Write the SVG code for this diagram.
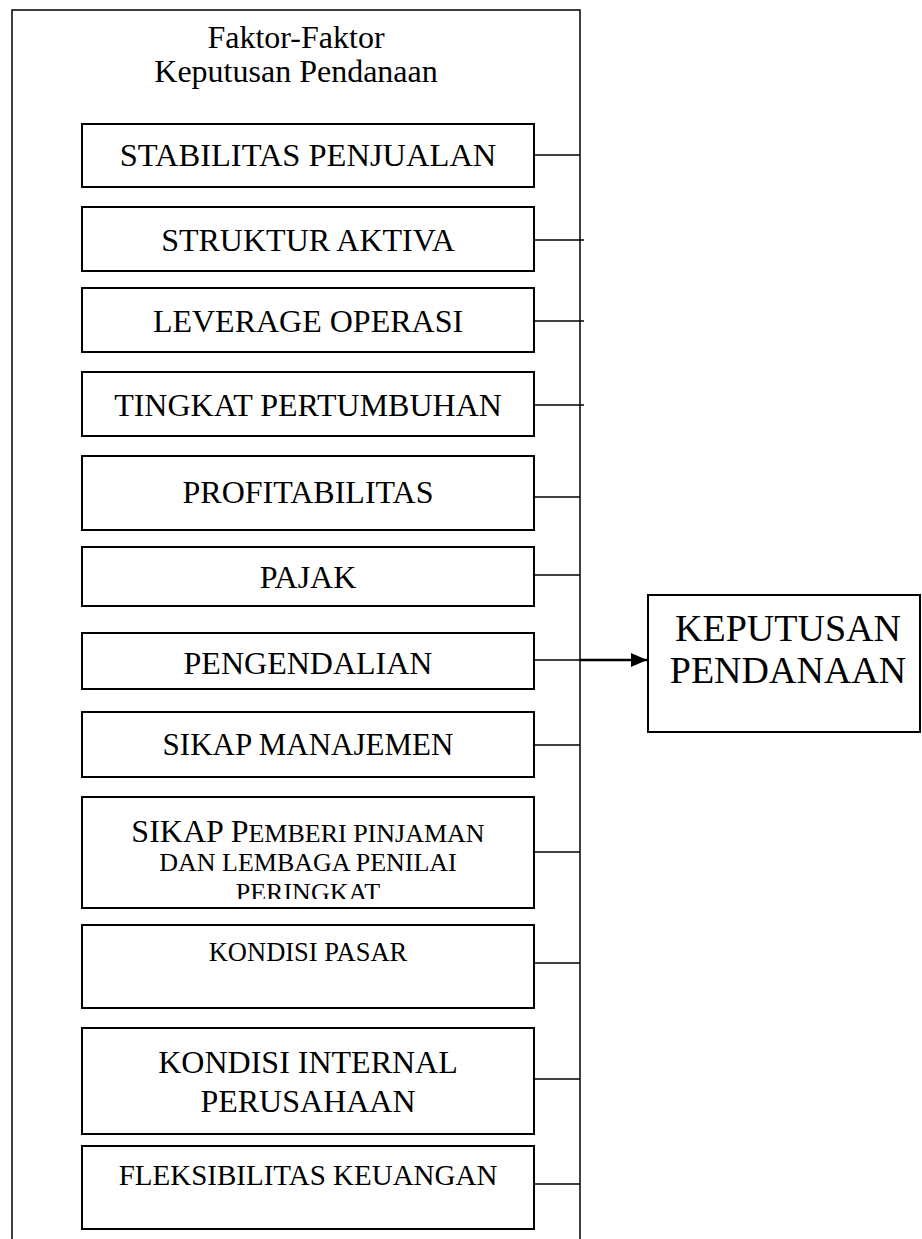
<svg xmlns="http://www.w3.org/2000/svg" width="922" height="1239" viewBox="0 0 922 1239">
<style>
  .box { fill: #ffffff; stroke: #000; stroke-width: 2; }
  .outer { fill: none; stroke: #000; stroke-width: 1.5; }
  .lbl { font-family: "Liberation Serif", "Times New Roman", serif; font-size: 32px; fill: #000; text-anchor: middle; }
  .sc { font-size: 26px; }
  .conn line { stroke: #000; stroke-width: 1.5; }
</style>
<defs>
  <marker id="arrow" markerWidth="16" markerHeight="14" refX="16" refY="7" orient="auto" markerUnits="userSpaceOnUse" viewBox="0 0 16 14">
    <path d="M0,0 L16,7 L0,14 Z" fill="#000"/>
  </marker>
  <clipPath id="clipSP"><rect x="82" y="797" width="452" height="102"/></clipPath>
</defs>
<rect fill="#ffffff" x="0" y="0" width="922" height="1239"/>

<g id="frame">
  <rect class="outer" x="12" y="10" width="568" height="1245"/>
  <text class="lbl" x="296" y="48">Faktor-Faktor</text>
  <text class="lbl" x="296" y="82">Keputusan Pendanaan</text>
</g>

<g class="conn" id="connectors">
  <line x1="534" y1="155" x2="580" y2="155"/>
  <line x1="534" y1="240" x2="584" y2="240"/>
  <line x1="534" y1="321" x2="584" y2="321"/>
  <line x1="534" y1="405" x2="584" y2="405"/>
  <line x1="534" y1="497" x2="580" y2="497"/>
  <line x1="534" y1="575" x2="580" y2="575"/>
  <line x1="534" y1="660" x2="580" y2="660"/>
  <line x1="580" y1="660" x2="647" y2="660" style="stroke-width:2.5" marker-end="url(#arrow)"/>
  <line x1="534" y1="745" x2="580" y2="745"/>
  <line x1="534" y1="852" x2="580" y2="852"/>
  <line x1="534" y1="963" x2="580" y2="963"/>
  <line x1="534" y1="1079" x2="580" y2="1079"/>
  <line x1="534" y1="1184" x2="580" y2="1184"/>
</g>

<g id="n1"><rect class="box" x="82" y="124" width="452" height="63"/><text class="lbl" x="308" y="166" style="font-size:32.5px">STABILITAS PENJUALAN</text></g>
<g id="n2"><rect class="box" x="82" y="207" width="452" height="64"/><text class="lbl" x="308" y="251">STRUKTUR AKTIVA</text></g>
<g id="n3"><rect class="box" x="82" y="288" width="452" height="64"/><text class="lbl" x="308" y="332">LEVERAGE OPERASI</text></g>
<g id="n4"><rect class="box" x="82" y="372" width="452" height="64"/><text class="lbl" x="308" y="416">TINGKAT PERTUMBUHAN</text></g>
<g id="n5"><rect class="box" x="82" y="456" width="452" height="74"/><text class="lbl" x="308" y="503">PROFITABILITAS</text></g>
<g id="n6"><rect class="box" x="82" y="547" width="452" height="59"/><text class="lbl" x="308" y="588">PAJAK</text></g>
<g id="n7"><rect class="box" x="82" y="633" width="452" height="56"/><text class="lbl" x="308" y="674">PENGENDALIAN</text></g>
<g id="n8"><rect class="box" x="82" y="712" width="452" height="65"/><text class="lbl" x="308" y="755" style="font-size:31px">SIKAP MANAJEMEN</text></g>
<g id="n9"><rect class="box" x="82" y="797" width="452" height="111"/>
  <g clip-path="url(#clipSP)">
    <text class="lbl" x="308" y="842">SIKAP P<tspan class="sc">EMBERI PINJAMAN</tspan></text>
    <text class="lbl sc" x="308" y="871">DAN LEMBAGA PENILAI</text>
    <text class="lbl sc" x="308" y="901">PERINGKAT</text>
  </g>
</g>
<g id="n10"><rect class="box" x="82" y="925" width="452" height="83"/><text class="lbl" x="308" y="961" style="font-size:26.5px">KONDISI PASAR</text></g>
<g id="n11"><rect class="box" x="82" y="1028" width="452" height="106"/><text class="lbl" x="308" y="1073">KONDISI INTERNAL</text><text class="lbl" x="308" y="1112">PERUSAHAAN</text></g>
<g id="n12"><rect class="box" x="82" y="1146" width="452" height="83"/><text class="lbl" x="308" y="1185" style="font-size:29px">FLEKSIBILITAS KEUANGAN</text></g>

<g id="target"><rect class="box" x="648" y="595" width="272" height="137"/><text class="lbl" x="788" y="641" style="font-size:38px">KEPUTUSAN</text><text class="lbl" x="788" y="683" style="font-size:38px">PENDANAAN</text></g>
</svg>
